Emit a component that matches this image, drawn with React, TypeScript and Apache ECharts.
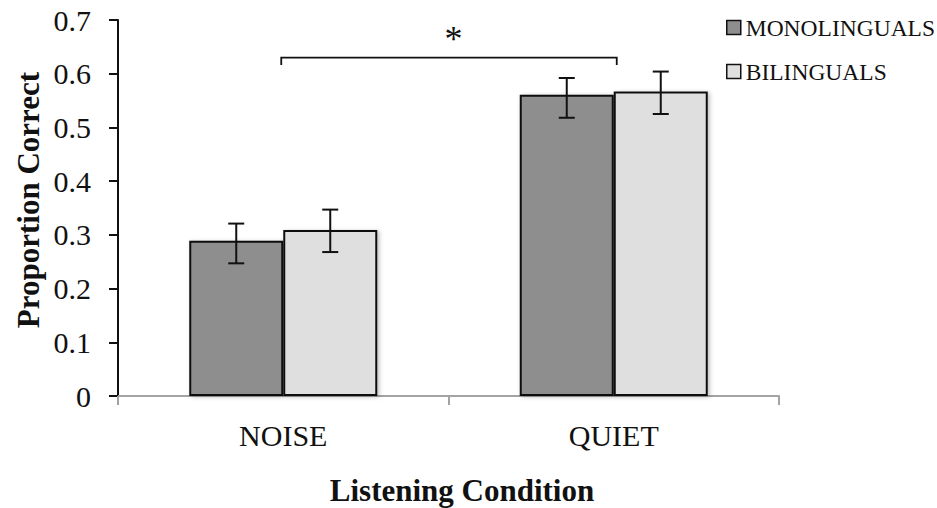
import React, { useEffect, useRef } from "react";
import * as echarts from "echarts";

// Listening condition categories and group means (proportion correct)
const categories = ["NOISE", "QUIET"];
const seriesNames = ["MONOLINGUALS", "BILINGUALS"];
const monoMeans = [0.289, 0.561];
const monoLow = [0.247, 0.518];
const monoHigh = [0.321, 0.592];
const biMeans = [0.309, 0.567];
const biLow = [0.268, 0.525];
const biHigh = [0.347, 0.604];

// Significance bracket between the two conditions
const bracketLevel = 0.63;
const bracketDrop = 0.616;
const starLevel = 0.664;

const BAR_W = 94;
const FONT = '"Liberation Serif", "Times New Roman", serif';

export default function App() {
  const ref = useRef<HTMLDivElement>(null);

  useEffect(() => {
    if (!ref.current) return;
    const chart = echarts.init(ref.current, null, { renderer: "svg" });

    const errorSeries = (name: string, low: number[], high: number[], side: number) => ({
      type: "custom",
      name: name + "-err",
      z: 5,
      silent: true,
      data: low.map((l, i) => [i, l, high[i]]),
      renderItem: (params: any, api: any) => {
        const idx = api.value(0);
        const lo = api.coord([idx, api.value(1)]);
        const hi = api.coord([idx, api.value(2)]);
        const x = lo[0] + (side * BAR_W) / 2;
        const cap = 8;
        const style = { stroke: "#111", lineWidth: 2 };
        return {
          type: "group",
          children: [
            { type: "line", shape: { x1: x, y1: hi[1], x2: x, y2: lo[1] }, style },
            { type: "line", shape: { x1: x - cap, y1: hi[1], x2: x + cap, y2: hi[1] }, style },
            { type: "line", shape: { x1: x - cap, y1: lo[1], x2: x + cap, y2: lo[1] }, style },
          ],
        };
      },
    });

    const option: any = {
      animation: false,
      backgroundColor: "#ffffff",
      grid: { left: 118, right: 158, top: 20, bottom: 112, containLabel: false },
      legend: {
        orient: "vertical",
        left: 721,
        top: 10,
        itemWidth: 14,
        itemHeight: 14,
        itemGap: 19,
        icon: "rect",
        data: seriesNames,
        itemStyle: { borderColor: "#111", borderWidth: 1.5 },
        textStyle: {
          fontFamily: FONT,
          fontSize: 23.5,
          color: "#111",
          lineHeight: 25,
        },
      },
      xAxis: {
        type: "category",
        data: categories,
        axisLine: { lineStyle: { color: "#a3a3a3", width: 2 } },
        axisTick: { show: true, length: 9, lineStyle: { color: "#a3a3a3", width: 2 } },
        axisLabel: { fontFamily: FONT, fontSize: 30, color: "#111", margin: 24 },
      },
      yAxis: {
        type: "value",
        min: 0,
        max: 0.7,
        interval: 0.1,
        splitLine: { show: false },
        axisLine: { show: true, lineStyle: { color: "#111", width: 2 } },
        axisTick: { show: true, length: 9, lineStyle: { color: "#111", width: 2 } },
        axisLabel: {
          fontFamily: FONT,
          fontSize: 30,
          color: "#111",
          margin: 27,
          formatter: (v: number) => (v === 0 ? "0" : v.toFixed(1)),
        },
      },
      series: [
        {
          type: "bar",
          name: seriesNames[0],
          data: monoMeans,
          barWidth: BAR_W,
          barGap: "0%",
          itemStyle: {
            color: "#8e8e8e",
            borderColor: "#111",
            borderWidth: 2,
            shadowColor: "rgba(0,0,0,0.25)",
            shadowBlur: 4,
            shadowOffsetX: 2,
            shadowOffsetY: 1,
          },
        },
        {
          type: "bar",
          name: seriesNames[1],
          data: biMeans,
          barWidth: BAR_W,
          barGap: "0%",
          itemStyle: {
            color: "#dfdfdf",
            borderColor: "#111",
            borderWidth: 2,
            shadowColor: "rgba(0,0,0,0.25)",
            shadowBlur: 4,
            shadowOffsetX: 2,
            shadowOffsetY: 1,
          },
        },
        errorSeries(seriesNames[0], monoLow, monoHigh, -1),
        errorSeries(seriesNames[1], biLow, biHigh, 1),
        {
          type: "custom",
          name: "bracket",
          silent: true,
          z: 6,
          data: [[0, 1, bracketLevel, bracketDrop, starLevel]],
          renderItem: (params: any, api: any) => {
            const a = api.coord([api.value(0), api.value(2)]);
            const b = api.coord([api.value(1), api.value(2)]);
            const drop = api.coord([api.value(0), api.value(3)]);
            const star = api.coord([api.value(0), api.value(4)]);
            const style = { stroke: "#111", lineWidth: 1.8, fill: null };
            return {
              type: "group",
              children: [
                {
                  type: "polyline",
                  shape: {
                    points: [
                      [a[0] - 2, drop[1]],
                      [a[0] - 2, a[1]],
                      [b[0] + 3, b[1]],
                      [b[0] + 3, drop[1]],
                    ],
                  },
                  style,
                },
                {
                  type: "text",
                  x: (a[0] + b[0]) / 2 + 5,
                  y: star[1],
                  style: {
                    text: "*",
                    font: `36px ${FONT}`,
                    fill: "#111",
                    align: "center",
                    verticalAlign: "middle",
                  },
                },
              ],
            };
          },
        },
      ],
      graphic: [
        {
          type: "text",
          x: 462,
          y: 490,
          style: {
            text: "Listening Condition",
            font: `bold 31px ${FONT}`,
            fill: "#111",
            align: "center",
            verticalAlign: "middle",
          },
        },
        {
          type: "text",
          x: 28,
          y: 200,
          rotation: Math.PI / 2,
          style: {
            text: "Proportion Correct",
            font: `bold 31px ${FONT}`,
            fill: "#111",
            align: "center",
            verticalAlign: "middle",
          },
        },
      ],
    };

    chart.setOption(option);
    return () => chart.dispose();
  }, []);

  return (
    <div
      ref={ref}
      style={{ position: "fixed", left: 0, top: 0, width: 937, height: 508, background: "#fff" }}
    />
  );
}
